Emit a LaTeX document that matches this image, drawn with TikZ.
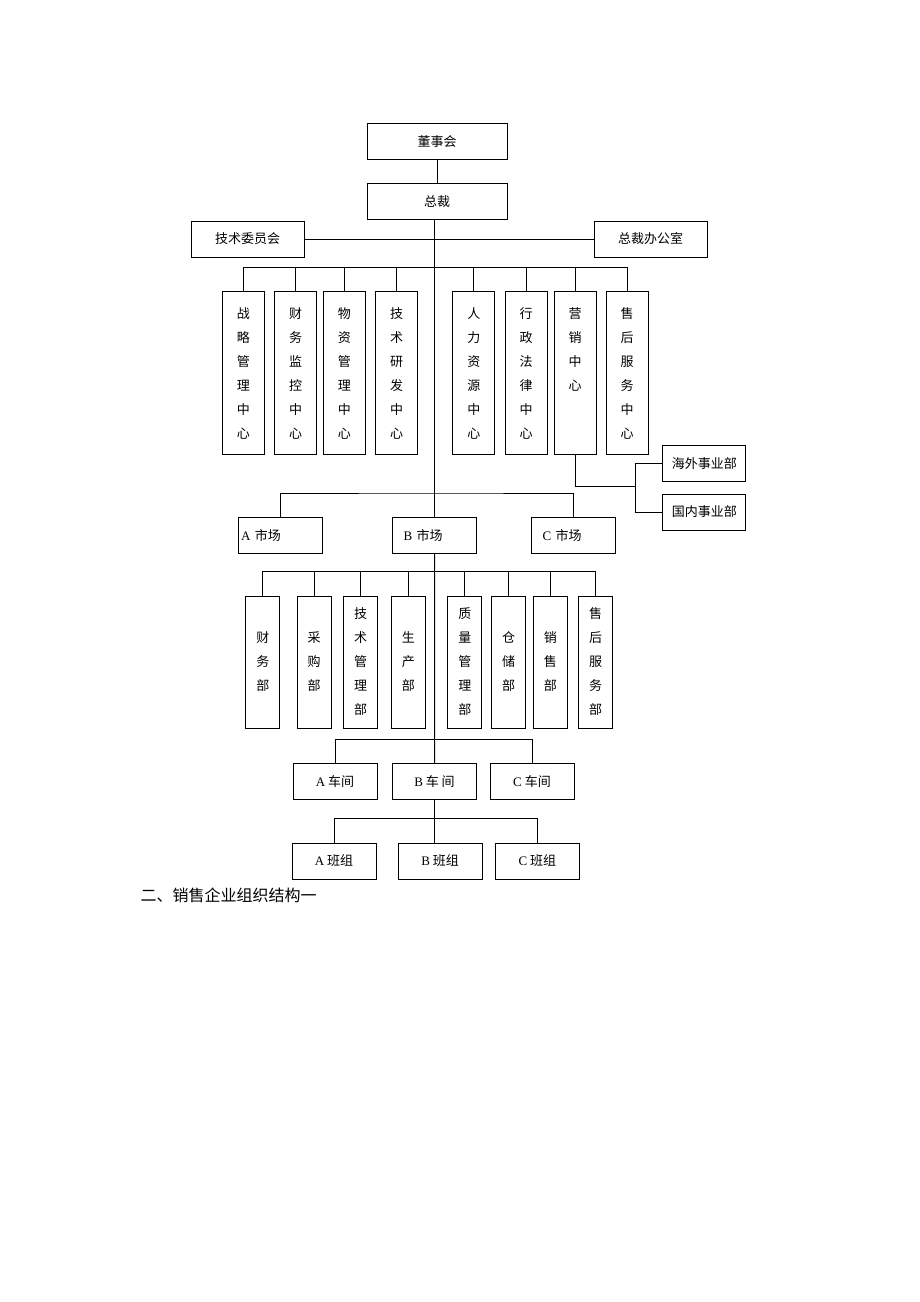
\documentclass[tikz,border=0pt]{standalone}
\usepackage{fontspec}
\setmainfont{Liberation Serif}
\newfontfamily\cjk{Noto Sans CJK SC}

\begin{document}
\begin{tikzpicture}[x=1pt, y=-1pt, line width=1pt,
    txt/.style={font=\cjk\fontsize{13}{24}\selectfont, inner sep=0pt},
    unit/.style={txt, draw, minimum width=#1, minimum height=36pt},
    unit/.default=84pt,
    column/.style={txt, draw, align=center, minimum width=#1},
    center/.style={column=42pt, minimum height=163pt},
    dept/.style={column=34pt, minimum height=132pt},
    market/.style={unit, align=left, inner xsep=11pt, text width=62pt}]
  \useasboundingbox (0,0) rectangle (920,1302);

  \node[unit=140pt] (board) at (437,141.3) {董事会};
  \node[unit=140pt] (ceo) at (437,201.3) {总裁};
  \node[unit=113pt] (techcom) at (247.5,239) {技术委员会};
  \node[unit=113pt] (office) at (650.5,239) {总裁办公室};

  \node[center] (zl) at (243.3,373.3) {战\\略\\管\\理\\中\\心};
  \node[center] (cw) at (295.5,373.3) {财\\务\\监\\控\\中\\心};
  \node[center] (wz) at (344.3,373.3) {物\\资\\管\\理\\中\\心};
  \node[center] (js) at (396.5,373.3) {技\\术\\研\\发\\中\\心};
  \node[center] (rl) at (473.8,373.3) {人\\力\\资\\源\\中\\心};
  \node[center] (xz) at (526.2,373.3) {行\\政\\法\\律\\中\\心};
  \node[center] (yx) at (575,373.3) {营\\销\\中\\心\\\phantom{中}\\\phantom{中}};
  \node[center] (sh) at (627.2,373.3) {售\\后\\服\\务\\中\\心};

  \node[unit=83pt] (hw) at (704.3,463.3) {海外事业部};
  \node[unit=83pt] (gn) at (704.3,512) {国内事业部};

  \node[market, inner xsep=3pt, text width=78pt] (amkt) at (280.2,535.3) {{\rmfamily A} 市场};
  \node[market] (bmkt) at (434.7,535.3) {{\rmfamily B} 市场};
  \node[market] (cmkt) at (573.7,535.3) {{\rmfamily C} 市场};

  \node[dept] (cwb) at (262.9,662) {财\\务\\部};
  \node[dept] (cgb) at (314.2,662) {采\\购\\部};
  \node[dept] (jsb) at (360.5,662) {技\\术\\管\\理\\部};
  \node[dept] (scb) at (408.3,662) {生\\产\\部};
  \node[dept] (zlb) at (464.8,662) {质\\量\\管\\理\\部};
  \node[dept] (ccb) at (508.5,662) {仓\\储\\部};
  \node[dept] (xsb) at (550.3,662) {销\\售\\部};
  \node[dept] (shb) at (595.5,662) {售\\后\\服\\务\\部};

  \node[unit] (ashop) at (335,781.5) {{\rmfamily A} 车间};
  \node[unit] (bshop) at (434.5,781.5) {{\rmfamily B} 车 间};
  \node[unit] (cshop) at (532,781.5) {{\rmfamily C} 车间};

  \node[unit] (ateam) at (334,861) {{\rmfamily A} 班组};
  \node[unit] (bteam) at (440.2,861) {{\rmfamily B} 班组};
  \node[unit] (cteam) at (537.4,861) {{\rmfamily C} 班组};

  \node[txt, anchor=west, font=\cjk\fontsize{16}{16}\selectfont] (title) at (140,895) {二、销售企业组织结构一};

  \coordinate (bus1) at (435,267.5);
  \coordinate (bus2) at (435,493);
  \coordinate (bus3) at (435,571.5);
  \coordinate (bus4) at (435,739.5);
  \coordinate (bus5) at (435,818.5);
  \coordinate (fork) at (635.5,486);

  \draw (board) -- (ceo);
  \draw (ceo.south -| bmkt.north) -- (bmkt.north);
  \draw (bmkt.south) -- (bshop.north);
  \draw (bshop.south) -- (bshop.south |- bteam.north);
  \draw (techcom) -- (office);

  \draw (zl.north) |- (bus1) -| (sh.north);
  \foreach \n in {cw,wz,js,rl,xz,yx}
    \draw (\n.north) -- (\n.north |- bus1);
  \draw (yx.south) |- (fork) |- (hw.west);
  \draw (fork) |- (gn.west);

  \draw (amkt.north) |- (bus2) -| (cmkt.north);

  \draw (cwb.north) |- (bus3) -| (shb.north);
  \foreach \n in {cgb,jsb,scb,zlb,ccb,xsb}
    \draw (\n.north) -- (\n.north |- bus3);

  \draw (ashop.north) |- (bus4) -| (cshop.north);
  \draw (ateam.north) |- (bus5) -| (cteam.north);
\end{tikzpicture}
\end{document}
